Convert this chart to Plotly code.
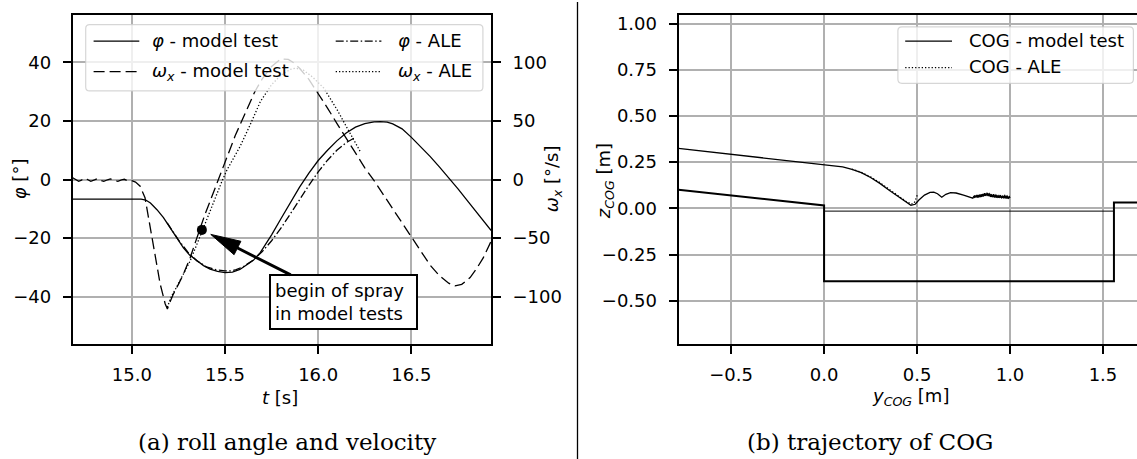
import plotly.graph_objects as go

W, H = 1137, 459

# ---------------- data: (a) roll angle and velocity ----------------
t_phi_mt = [14.683, 14.9, 15.05, 15.075, 15.1, 15.135, 15.17, 15.2, 15.223, 15.25, 15.277, 15.31,
            15.349, 15.385, 15.42, 15.46, 15.5, 15.54, 15.58, 15.62, 15.652, 15.69, 15.724, 15.75,
            15.8, 15.85, 15.9, 15.95, 16.0, 16.05, 16.1, 16.15, 16.2, 16.25, 16.3, 16.333, 16.37,
            16.4, 16.45, 16.5, 16.55, 16.6, 16.65, 16.7, 16.75, 16.8, 16.85, 16.9, 16.928]
phi_mt = [-6.7, -6.7, -6.7, -7.0, -8.0, -10.3, -13.0, -15.9, -18.2, -20.8, -23.3, -25.8,
          -27.8, -29.4, -30.6, -31.4, -31.8, -31.6, -30.7, -29.1, -27.6, -24.9, -21.6, -18.9,
          -13.4, -7.9, -2.6, 2.2, 6.5, 10.0, 13.2, 15.9, 17.9, 19.1, 19.7, 19.8, 19.6,
          19.0, 17.3, 14.4, 11.3, 7.9, 4.3, 0.6, -3.2, -7.2, -11.2, -15.2, -17.4]

t_om_mt = [14.683, 14.70, 14.715, 14.73, 14.745, 14.76, 14.78, 14.80, 14.815, 14.83, 14.85, 14.87,
           14.885, 14.905, 14.925, 14.945, 14.96, 14.98, 15.0, 15.02, 15.045, 15.071, 15.098,
           15.125, 15.152, 15.179, 15.191, 15.205, 15.223, 15.25, 15.277, 15.313, 15.34, 15.366,
           15.393, 15.42, 15.447, 15.474, 15.5, 15.53, 15.555, 15.581, 15.62, 15.66, 15.7, 15.75,
           15.8, 15.84, 15.87, 15.9, 15.95, 16.0, 16.05, 16.1, 16.15, 16.19, 16.25, 16.3, 16.35,
           16.4, 16.45, 16.5, 16.55, 16.6, 16.65, 16.7, 16.734, 16.77, 16.815, 16.85, 16.886, 16.928]
om_mt = [1.5, 0.0, -1.5, -0.5, 1.0, 0.2, -1.5, -0.3, 0.8, -0.5, -1.6, -0.2,
         0.6, -0.8, -1.5, -0.3, 0.2, -1.2, -1.0, -2.2, -5.7, -15.6, -41.0,
         -66.7, -89.0, -106.0, -110.5, -104.5, -97.8, -89.5, -80.8, -66.7, -54.0, -41.0,
         -29.5, -18.5, -7.0, 4.3, 15.5, 28.0, 37.5, 46.8, 61.0, 75.0, 86.0, 96.5,
         103.0, 102.5, 99.5, 95.0, 85.5, 73.6, 61.0, 48.0, 35.0, 24.5, 10.0, -1.0, -13.0,
         -25.0, -38.0, -50.0, -62.0, -73.0, -82.0, -88.5, -90.7, -89.5, -83.7, -76.0, -66.7, -52.5]

t_phi_ale = [15.19, 15.22, 15.25, 15.3, 15.35, 15.4, 15.45, 15.5, 15.53, 15.56, 15.6, 15.65,
             15.7, 15.75, 15.8, 15.85, 15.9, 15.95, 16.0, 16.05, 16.1, 16.15, 16.2]
phi_ale = [-14.8, -17.8, -20.6, -24.7, -27.8, -29.8, -30.8, -31.2, -31.2, -30.8, -29.7, -27.6,
           -24.6, -20.9, -16.6, -11.8, -6.8, -2.0, 2.6, 6.6, 10.0, 12.6, 14.4]

t_om_ale = [15.19, 15.215, 15.24, 15.275, 15.313, 15.35, 15.384, 15.42, 15.456, 15.485, 15.51,
            15.55, 15.58, 15.63, 15.69, 15.75, 15.8, 15.85, 15.88, 15.92, 15.97, 16.03, 16.1,
            16.15, 16.2, 16.225]
om_ale = [-109.0, -99.0, -92.0, -81.0, -69.5, -55.0, -41.0, -27.0, -12.8, -1.0, 8.0,
          19.0, 28.0, 45.0, 66.6, 81.0, 89.0, 94.0, 95.0, 93.5, 87.5, 78.0, 60.0,
          45.5, 31.0, 24.0]

spray_t = [15.376]
spray_phi = [-17.2]
spray_label = "begin of spray<br>in model tests"
spray_box_t = 16.138
spray_box_phi = -41.8

# ---------------- data: (b) trajectory of COG ----------------
cog_mt_y = [-0.783, -0.4, 0.0, 0.05, 0.1, 0.15, 0.2, 0.25, 0.3, 0.35, 0.4, 0.44, 0.467, 0.49,
            0.51, 0.54, 0.57, 0.59, 0.61, 0.633, 0.655, 0.68, 0.71, 0.75, 0.78,
            0.800, 0.806, 0.803, 0.812, 0.809, 0.818, 0.815, 0.824, 0.821, 0.830, 0.827, 0.836,
            0.833, 0.842, 0.839, 0.848, 0.845, 0.854, 0.851, 0.860, 0.857, 0.866, 0.863, 0.872,
            0.869, 0.878, 0.875, 0.884, 0.881, 0.890, 0.887, 0.896, 0.893, 0.902, 0.899, 0.908,
            0.905, 0.914, 0.911, 0.920, 0.917, 0.926, 0.923, 0.932, 0.929, 0.938, 0.935, 0.944,
            0.941, 0.950, 0.947, 0.956, 0.953, 0.962, 0.959, 0.968, 0.965, 0.974, 0.971, 0.980,
            0.977, 0.986, 0.983, 0.992, 0.989, 0.998, 1.000,
            0.996, 0.990, 0.984, 0.978, 0.972, 0.966, 0.960, 0.954, 0.948, 0.942, 0.936, 0.930,
            0.924, 0.918, 0.912, 0.906, 0.900, 0.894, 0.888, 0.882, 0.876, 0.870, 0.864, 0.858,
            0.852, 0.846, 0.840, 0.834, 0.828, 0.822, 0.816, 0.810]
cog_mt_z = [0.325, 0.2815, 0.236, 0.232, 0.224, 0.211, 0.193, 0.167, 0.135, 0.098, 0.062, 0.033,
            0.016, 0.022, 0.045, 0.072, 0.086, 0.088, 0.079, 0.060, 0.076, 0.085, 0.083, 0.071,
            0.060,
            0.055, 0.066, 0.060, 0.070, 0.057, 0.068, 0.059, 0.072, 0.060, 0.071, 0.058, 0.074,
            0.062, 0.070, 0.060, 0.076, 0.063, 0.073, 0.064, 0.079, 0.066, 0.082, 0.068, 0.080,
            0.067, 0.084, 0.070, 0.079, 0.066, 0.081, 0.068, 0.076, 0.062, 0.075, 0.063, 0.072,
            0.060, 0.074, 0.062, 0.070, 0.058, 0.073, 0.060, 0.068, 0.057, 0.071, 0.059, 0.067,
            0.056, 0.070, 0.058, 0.066, 0.055, 0.069, 0.057, 0.064, 0.054, 0.068, 0.056, 0.063,
            0.053, 0.066, 0.055, 0.062, 0.052, 0.060, 0.056,
            0.064, 0.058, 0.067, 0.059, 0.070, 0.061, 0.066, 0.058, 0.071, 0.062, 0.069, 0.061,
            0.072, 0.064, 0.076, 0.066, 0.074, 0.068, 0.079, 0.071, 0.081, 0.072, 0.078, 0.068,
            0.075, 0.066, 0.072, 0.064, 0.069, 0.061, 0.066, 0.058]

cog_ale_y = [0.15, 0.2, 0.25, 0.3, 0.35, 0.4, 0.44, 0.47, 0.485, 0.495, 0.502]
cog_ale_z = [0.212, 0.195, 0.170, 0.139, 0.103, 0.067, 0.038, 0.023, 0.030, 0.055, 0.074]

pool_y = [-0.783, 0.0, 0.0, 1.559, 1.559, 1.683]
pool_z = [0.101, 0.016, -0.394, -0.394, 0.031, 0.031]
water_y = [0.0, 1.559]
water_z = [-0.015, -0.015]

# tick values
t_ticks = [15.0, 15.5, 16.0, 16.5]
phi_ticks = [-40, -20, 0, 20, 40]
om_ticks = [-100, -50, 0, 50, 100]
ycog_ticks = [-0.5, 0.0, 0.5, 1.0, 1.5]
zcog_ticks = [-0.5, -0.25, 0.0, 0.25, 0.5, 0.75, 1.0]


# ---------------- helpers (layout only) ----------------
def px(x):
    return x / W


def py(y):
    return 1 - y / H


FONT = "DejaVu Sans"
SERIF = "DejaVu Serif"
GRID = "#b0b0b0"
LW = 1.3

fig = go.Figure()

# (a) traces
fig.add_trace(go.Scatter(x=t_phi_mt, y=phi_mt, mode="lines", xaxis="x", yaxis="y",
                         line=dict(color="black", width=LW), showlegend=False))
fig.add_trace(go.Scatter(x=t_om_mt, y=om_mt, mode="lines", xaxis="x", yaxis="y2",
                         line=dict(color="black", width=LW, dash="11px,5px"), showlegend=False))
fig.add_trace(go.Scatter(x=t_phi_ale, y=phi_ale, mode="lines", xaxis="x", yaxis="y",
                         line=dict(color="black", width=LW, dash="8px,2.5px,1.5px,2.5px"),
                         showlegend=False))
fig.add_trace(go.Scatter(x=t_om_ale, y=om_ale, mode="lines", xaxis="x", yaxis="y2",
                         line=dict(color="black", width=LW, dash="1.3px,2px"), showlegend=False))
fig.add_trace(go.Scatter(x=spray_t, y=spray_phi, mode="markers", xaxis="x", yaxis="y",
                         marker=dict(color="black", size=10), showlegend=False))

# (b) traces
fig.add_trace(go.Scatter(x=pool_y, y=pool_z, mode="lines", xaxis="x2", yaxis="y3",
                         line=dict(color="black", width=2), showlegend=False))
fig.add_trace(go.Scatter(x=water_y, y=water_z, mode="lines", xaxis="x2", yaxis="y3",
                         line=dict(color="black", width=1), showlegend=False))
fig.add_trace(go.Scatter(x=cog_mt_y, y=cog_mt_z, mode="lines", xaxis="x2", yaxis="y3",
                         line=dict(color="black", width=LW), showlegend=False))
fig.add_trace(go.Scatter(x=cog_ale_y, y=cog_ale_z, mode="lines", xaxis="x2", yaxis="y3",
                         line=dict(color="black", width=LW, dash="1.3px,2px"), showlegend=False))

tickfont = dict(family=FONT, size=18, color="black")
common = dict(showline=True, linecolor="black", linewidth=1.8, ticks="outside", ticklen=8,
              tickwidth=1.5, tickcolor="black", zeroline=False, tickfont=tickfont)

ydom = [py(343.3), py(13.3)]

fig.update_layout(
    width=W, height=H, margin=dict(l=0, r=0, t=0, b=0),
    paper_bgcolor="white", plot_bgcolor="white",
    font=dict(family=FONT, size=18, color="black"),
    xaxis=dict(domain=[px(72.7), px(491)], range=[14.683, 16.927], tickvals=t_ticks,
               tickformat=".1f", showgrid=True, gridcolor=GRID, gridwidth=1.5, mirror=True,
               anchor="y", ticklabelstandoff=6, **common),
    yaxis=dict(domain=ydom, range=[-56.1, 56.1], tickvals=phi_ticks, showgrid=True,
               gridcolor=GRID, gridwidth=1.5, mirror=True, anchor="x", ticklabelstandoff=8,
               **common),
    yaxis2=dict(overlaying="y", side="right", range=[-140.25, 140.25], tickvals=om_ticks,
                showgrid=False, anchor="x", ticklabelstandoff=8, **common),
    xaxis2=dict(domain=[px(678.5), 1.0], range=[-0.783, 1.683], tickvals=ycog_ticks,
                tickformat=".1f", showgrid=True, gridcolor=GRID, gridwidth=1.5, mirror=True,
                anchor="y3", ticklabelstandoff=6, **common),
    yaxis3=dict(domain=ydom, range=[-0.733, 1.045], tickvals=zcog_ticks, tickformat=".2f",
                showgrid=True, gridcolor=GRID, gridwidth=1.5, mirror=False, anchor="x2",
                ticklabelstandoff=8, **common),
)

shapes = []
annotations = []


def rounded_rect(x0, y0, x1, y1, r=4):
    # pixel coords -> paper path with rounded corners
    def P(x, y):
        return f"{px(x):.6f},{py(y):.6f}"
    return (f"M {P(x0 + r, y0)} L {P(x1 - r, y0)} Q {P(x1, y0)} {P(x1, y0 + r)} "
            f"L {P(x1, y1 - r)} Q {P(x1, y1)} {P(x1 - r, y1)} L {P(x0 + r, y1)} "
            f"Q {P(x0, y1)} {P(x0, y1 - r)} L {P(x0, y0 + r)} Q {P(x0, y0)} {P(x0 + r, y0)} Z")


def legend_box(x0, y0, x1, y1):
    shapes.append(dict(type="path", xref="paper", yref="paper", path=rounded_rect(x0, y0, x1, y1),
                       fillcolor="rgba(255,255,255,0.8)", line=dict(color="rgba(204,204,204,0.8)", width=1.2),
                       layer="above"))


def legend_item(x0, x1, y, dash, text, tx, ty):
    shapes.append(dict(type="line", xref="paper", yref="paper", x0=px(x0), x1=px(x1),
                       y0=py(y), y1=py(y), line=dict(color="black", width=LW, dash=dash),
                       layer="above"))
    annotations.append(dict(xref="paper", yref="paper", x=px(tx), y=py(ty), text=text,
                            showarrow=False, xanchor="left", yanchor="middle",
                            font=dict(family=FONT, size=18, color="black")))


# legend (a)
legend_box(85.7, 22.7, 482.9, 89.3)
PHI = "<i>φ</i>"
OMX = "<i>ω</i><sub><i>x</i></sub>"
legend_item(93.6, 139.3, 39.3, "solid", PHI + " - model test", 150, 38.3)
legend_item(93.6, 139.3, 70.0, "11px,5px", OMX + " - model test", 150, 70)
legend_item(335.7, 381.4, 39.3, "8px,2.5px,1.5px,2.5px", PHI + " - ALE", 396.4, 38.3)
legend_item(335.7, 381.4, 70.0, "1.3px,2px", OMX + " - ALE", 396.4, 70)

# legend (b)
legend_box(897.9, 25.0, 1133.4, 81.7)
legend_item(905.2, 952.0, 39.3, "solid", "COG - model test", 966.7, 38.3)
legend_item(905.2, 952.0, 66.0, "1.3px,2px", "COG - ALE", 966.7, 65.0)

# spray annotation with arrow
annotations.append(dict(xref="x", yref="y", x=spray_t[0], y=spray_phi[0],
                        axref="x", ayref="y", ax=spray_box_t, ay=spray_box_phi,
                        text=spray_label, align="left", showarrow=True, arrowhead=0,
                        arrowwidth=3, arrowcolor="black", standoff=34,
                        bgcolor="white", bordercolor="black", borderwidth=2, borderpad=4,
                        width=137, height=44, font=dict(family=FONT, size=18, color="black")))
shapes.append(dict(type="path", xref="x", yref="y", xsizemode="pixel", ysizemode="pixel",
                   xanchor=spray_t[0], yanchor=spray_phi[0],
                   path="M 8.9,-4.5 L 39,-11.4 L 32.2,-24.8 Z",
                   fillcolor="black", line=dict(color="black", width=1), layer="above"))

# axis titles
def label(x, y, text, angle=0, size=18, family=FONT):
    annotations.append(dict(xref="paper", yref="paper", x=px(x), y=py(y), text=text,
                            showarrow=False, xanchor="center", yanchor="middle",
                            textangle=angle, font=dict(family=family, size=size, color="black")))


label(280, 397, "<i>t</i> [s]")
label(19, 178, PHI + " [°]", -90)
label(553, 178, OMX + " [°/s]", -90)
label(605, 180, "<i>z</i><sub><i>COG</i></sub> [m]", -90)
label(910, 397, "<i>y</i><sub><i>COG</i></sub> [m]")

# captions
label(286.6, 442, "(a) roll angle and velocity", size=23, family=SERIF)
label(870, 442, "(b) trajectory of COG", size=23, family=SERIF)

# separator
shapes.append(dict(type="line", xref="paper", yref="paper", x0=px(577.5), x1=px(577.5),
                   y0=0, y1=1, line=dict(color="black", width=1.3)))

fig.update_layout(shapes=shapes, annotations=annotations)
fig.write_html("out.html")
